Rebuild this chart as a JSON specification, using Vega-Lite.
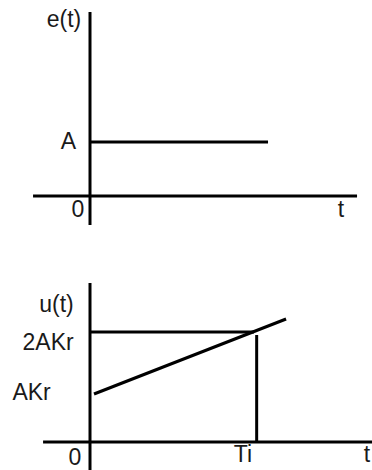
{
  "$schema": "https://vega.github.io/schema/vega-lite/v6.json",
  "padding": 0,
  "spacing": 0,
  "bounds": "flush",
  "background": "white",
  "config": {"view": {"stroke": null}},
  "datasets": {
    "segments": [
      {"panel": "e", "name": "e-axis", "t1": 0, "v1": 3.407, "t2": 0, "v2": -0.537},
      {"panel": "e", "name": "t-axis", "t1": -0.341, "v1": 0, "t2": 1.599, "v2": 0},
      {"panel": "e", "name": "step A", "t1": 0.006, "v1": 1, "t2": 1.066, "v2": 1},
      {"panel": "u", "name": "u-axis", "t1": 0, "v1": 2.891, "t2": 0, "v2": -0.509},
      {"panel": "u", "name": "t-axis", "t1": -0.281, "v1": 0, "t2": 1.689, "v2": 0},
      {"panel": "u", "name": "2AKr level", "t1": 0.006, "v1": 2, "t2": 0.982, "v2": 2},
      {"panel": "u", "name": "ramp", "t1": 0.024, "v1": 0.873, "t2": 1.174, "v2": 2.236},
      {"panel": "u", "name": "Ti mark", "t1": 0.998, "v1": 1.945, "t2": 0.998, "v2": 0}
    ],
    "labels": [
      {"panel": "e", "text": "e(t)", "t": -0.156, "v": 3.259},
      {"panel": "e", "text": "A", "t": -0.129, "v": 1.0},
      {"panel": "e", "text": "0", "t": -0.072, "v": -0.259},
      {"panel": "e", "text": "t", "t": 1.503, "v": -0.259},
      {"panel": "u", "text": "u(t)", "t": -0.201, "v": 2.491},
      {"panel": "u", "text": "2AKr", "t": -0.251, "v": 1.8},
      {"panel": "u", "text": "AKr", "t": -0.35, "v": 0.891},
      {"panel": "u", "text": "0", "t": -0.09, "v": -0.291},
      {"panel": "u", "text": "Ti", "t": 0.916, "v": -0.236},
      {"panel": "u", "text": "t", "t": 1.659, "v": -0.236}
    ]
  },
  "vconcat": [
    {
      "width": 372,
      "height": 240,
      "layer": [
        {
          "data": {"name": "segments"},
          "transform": [{"filter": "datum.panel === 'e'"}],
          "mark": {"type": "rule", "stroke": "black", "strokeWidth": 3},
          "encoding": {
            "x": {"field": "t1", "type": "quantitative", "scale": {"domain": [-0.5389, 1.6886], "nice": false, "zero": false}, "axis": null},
            "x2": {"field": "t2"},
            "y": {"field": "v1", "type": "quantitative", "scale": {"domain": [-0.8148, 3.6296], "nice": false, "zero": false}, "axis": null},
            "y2": {"field": "v2"}
          }
        },
        {
          "data": {"name": "labels"},
          "transform": [{"filter": "datum.panel === 'e'"}],
          "mark": {"type": "text", "font": "Liberation Sans", "fontSize": 23, "align": "center", "baseline": "middle", "color": "#1a1a1a"},
          "encoding": {
            "x": {"field": "t", "type": "quantitative"},
            "y": {"field": "v", "type": "quantitative"},
            "text": {"field": "text"}
          }
        }
      ]
    },
    {
      "width": 372,
      "height": 230,
      "layer": [
        {
          "data": {"name": "segments"},
          "transform": [{"filter": "datum.panel === 'u'"}],
          "mark": {"type": "rule", "stroke": "black", "strokeWidth": 3},
          "encoding": {
            "x": {"field": "t1", "type": "quantitative", "scale": {"domain": [-0.5389, 1.6886], "nice": false, "zero": false}, "axis": null},
            "x2": {"field": "t2"},
            "y": {"field": "v1", "type": "quantitative", "scale": {"domain": [-0.5091, 3.6727], "nice": false, "zero": false}, "axis": null},
            "y2": {"field": "v2"}
          }
        },
        {
          "data": {"name": "labels"},
          "transform": [{"filter": "datum.panel === 'u'"}],
          "mark": {"type": "text", "font": "Liberation Sans", "fontSize": 23, "align": "center", "baseline": "middle", "color": "#1a1a1a"},
          "encoding": {
            "x": {"field": "t", "type": "quantitative"},
            "y": {"field": "v", "type": "quantitative"},
            "text": {"field": "text"}
          }
        }
      ]
    }
  ]
}
